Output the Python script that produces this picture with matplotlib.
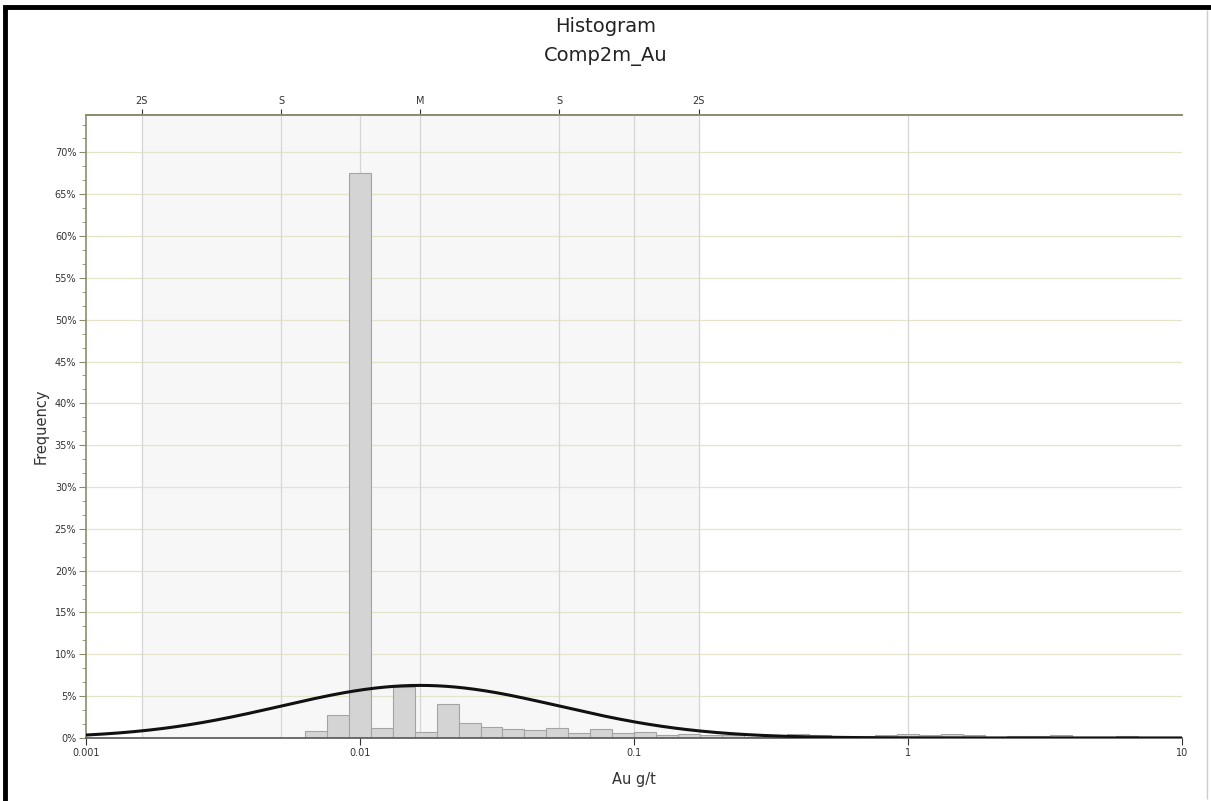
import matplotlib.pyplot as plt
import numpy as np
from matplotlib.ticker import FixedLocator, AutoMinorLocator, FuncFormatter, NullLocator
from matplotlib.patches import Rectangle

# histogram bins (log10 of Au g/t), 40 bins of 0.08
bin_start_log = -2.2
bin_width_log = 0.08
freq_pct = [0.8, 2.7, 67.6, 1.25, 6.1, 0.7, 4.1, 1.75, 1.3, 1.1,
            0.92, 1.15, 0.65, 1.05, 0.55, 0.7, 0.35, 0.45, 0.4, 0.3,
            0.15, 0.1, 0.45, 0.35, 0.1, 0.25, 0.35, 0.45, 0.3, 0.45,
            0.35, 0.05, 0.25, 0.25, 0.4, 0.0, 0.0, 0.25, 0.0, 0.0]

# log-normal fit (M and S marks)
mean_log = -1.78
sd_log = 0.508
sd_labels = ['2S', 'S', 'M', 'S', '2S']
sd_steps = [-2, -1, 0, 1, 2]

x_ticks = [0.001, 0.01, 0.1, 1, 10]
x_ticklabels = ['0.001', '0.01', '0.1', '1', '10']
y_ticks = [0, 5, 10, 15, 20, 25, 30, 35, 40, 45, 50, 55, 60, 65, 70]

spine_col = '#8c8c6c'
text_col = '#333333'

fig = plt.figure(figsize=(12.11, 8.01), dpi=100)
ax = fig.add_axes([0.071, 0.0787, 0.905, 0.778])

# shaded band between -2S and +2S
ax.axvspan(10 ** (mean_log - 2 * sd_log), 10 ** (mean_log + 2 * sd_log),
           color='#f7f7f7', zorder=0)

# grid
for y in y_ticks:
    ax.axhline(y, color='#e4e4cc', lw=0.9, zorder=0.5)
for x in x_ticks[1:-1]:
    ax.axvline(x, color='#d6d6d6', lw=0.9, zorder=0.5)
sd_pos = [10 ** (mean_log + k * sd_log) for k in sd_steps]
for x in sd_pos:
    ax.axvline(x, color='#d6d6d6', lw=0.9, zorder=0.5)

# bars
edges = 10 ** (bin_start_log + bin_width_log * np.arange(len(freq_pct) + 1))
ax.bar(edges[:-1], freq_pct, width=np.diff(edges), align='edge',
       color='#d4d4d4', edgecolor='#a4a4a4', linewidth=0.8, zorder=2)

# fitted normal curve (in log space), scaled to bin width
xs = np.logspace(-3, 1, 500)
z = (np.log10(xs) - mean_log) / sd_log
curve = 100 * bin_width_log * np.exp(-0.5 * z ** 2) / (sd_log * np.sqrt(2 * np.pi))
ax.plot(xs, curve, color='#111111', lw=2.2, zorder=3)

ax.set_xscale('log')
ax.set_xlim(0.001, 10)
ax.set_ylim(0, 74.5)
ax.xaxis.set_major_locator(FixedLocator(x_ticks))
ax.xaxis.set_minor_locator(NullLocator())
ax.set_xticklabels(x_ticklabels)
ax.yaxis.set_major_locator(FixedLocator(y_ticks))
ax.yaxis.set_minor_locator(AutoMinorLocator(3))
ax.yaxis.set_major_formatter(FuncFormatter(lambda v, p: '%d%%' % v))

for s in ['right']:
    ax.spines[s].set_visible(False)
for s in ['left', 'top', 'bottom']:
    ax.spines[s].set_color(spine_col)
    ax.spines[s].set_linewidth(1.2)
ax.spines['bottom'].set_color('#555555')

ax.tick_params(axis='both', which='major', labelsize=7, colors=text_col,
               length=5, width=0.8, pad=2)
ax.tick_params(axis='y', which='minor', length=3, width=0.6, colors=spine_col)
ax.tick_params(axis='y', which='major', colors=spine_col, labelcolor=text_col)

ax.set_xlabel('Au g/t', fontsize=10.5, color=text_col, labelpad=10)
ax.set_ylabel('Frequency', fontsize=10.5, color=text_col, labelpad=4)

# top axis with mean / standard deviation marks
top = ax.secondary_xaxis('top')
top.set_xscale('log')
top.xaxis.set_major_locator(FixedLocator(sd_pos))
top.xaxis.set_minor_locator(NullLocator())
top.set_xticklabels(sd_labels)
top.tick_params(axis='x', labelsize=7, colors=text_col, length=4, width=0.8, pad=2)
top.spines['top'].set_color(spine_col)
top.spines['top'].set_linewidth(1.2)

fig.text(0.5, 0.967, 'Histogram', ha='center', va='center', fontsize=14, color='#222222')
fig.text(0.5, 0.930, 'Comp2m_Au', ha='center', va='center', fontsize=14, color='#222222')

# window frame
fig.patches.append(Rectangle((0.0045, -0.01), 1.2, 1.001, transform=fig.transFigure,
                             fill=False, edgecolor='black', linewidth=3.5))
fig.patches.append(Rectangle((0.9965, 0.003), 0.0, 0.985, transform=fig.transFigure,
                             fill=False, edgecolor='#cccccc', linewidth=1))

fig.savefig('out.png', dpi=100)
